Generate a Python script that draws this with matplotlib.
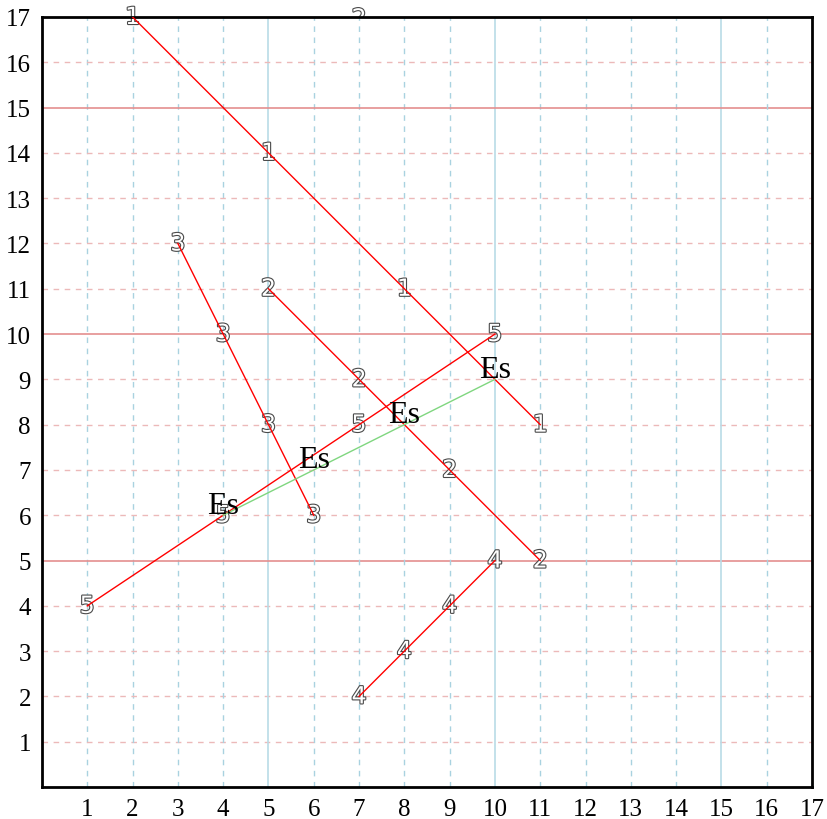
import matplotlib
matplotlib.use('Agg')
import matplotlib.pyplot as plt
import matplotlib.patheffects as pe

# series points (x, y) and the label drawn at each point
s1_x = [2, 5, 8, 11]
s1_y = [17, 14, 11, 8]
s2_x = [5, 7, 9, 11]
s2_y = [11, 9, 7, 5]
s3_x = [3, 4, 5, 6]
s3_y = [12, 10, 8, 6]
s4_x = [7, 8, 9, 10]
s4_y = [2, 3, 4, 5]
s5_x = [1, 4, 7, 10]
s5_y = [4, 6, 8, 10]
es_x = [4, 6, 8, 10]
es_y = [6, 7, 8, 9]
series = [('1', s1_x, s1_y), ('2', s2_x, s2_y), ('3', s3_x, s3_y),
          ('4', s4_x, s4_y), ('5', s5_x, s5_y)]
stray_label = ('2', 7, 17)
ticks = list(range(1, 18))

fig = plt.figure(figsize=(8.27, 8.2), dpi=100)
ax = fig.add_axes([42/827, 1-788/820, 770/827, 770/820])
ax.set_xlim(0, 17)
ax.set_ylim(0, 17)

# grid
for v in ticks:
    major = v % 5 == 0
    ax.axvline(v, color='#b9dbe6' if major else '#a9d2e0', lw=1.2 if major else 1.0,
               ls='-' if major else (0, (4, 4)), zorder=0)
    ax.axhline(v, color='#e48f8f' if major else '#ecb9b9', lw=1.2 if major else 1.0,
               ls='-' if major else (0, (4, 4)), zorder=0)

outline = [pe.Stroke(linewidth=1.6, foreground='#4a4a4a'), pe.Normal()]

for lab, xs, ys in series:
    ax.plot(xs, ys, color='red', lw=1.0, zorder=3)
    for x, y in zip(xs, ys):
        ax.text(x, y, lab, color='white', fontsize=17, ha='center', va='center',
                path_effects=outline, zorder=2, clip_on=False)

ax.plot(es_x, es_y, color='#7fd67f', lw=1.0, zorder=3)
for x, y in zip(es_x, es_y):
    ax.text(x, y + 0.22, 'Es', fontsize=23, family='Liberation Serif',
            ha='center', va='center', color='black', zorder=4)

# the stray label sits behind the axes, only its top pokes out
fig.text(42/827 + stray_label[1]*770/(827*17), 1-18/820 - 0.002, stray_label[0],
         color='white', fontsize=17, ha='center', va='center',
         path_effects=outline, zorder=-1)

for sp in ax.spines.values():
    sp.set_linewidth(2)
ax.set_xticks(ticks)
ax.set_yticks(ticks)
ax.tick_params(length=0, pad=8, labelsize=18)
for t in ax.get_xticklabels() + ax.get_yticklabels():
    t.set_family('Liberation Serif')

fig.savefig('out.png', dpi=100)
